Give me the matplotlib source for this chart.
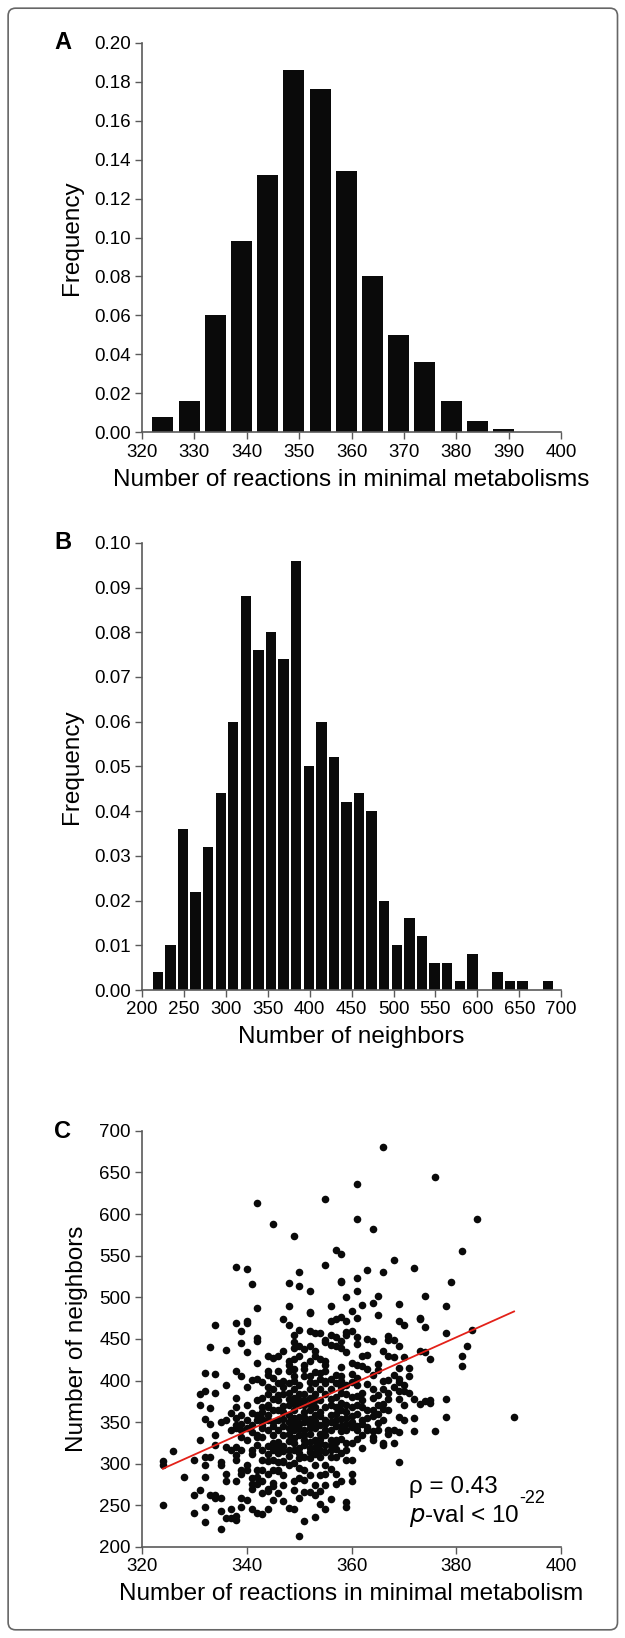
import matplotlib
matplotlib.use("Agg")
import matplotlib.pyplot as plt
from matplotlib.patches import FancyBboxPatch
import numpy as np

plt.rcParams.update({"font.family": ["Liberation Sans", "DejaVu Sans"], "font.size": 13})

# ---------- data ----------
# A: histogram of minimal-metabolism size
a_centers = [324, 329, 334, 339, 344, 349, 354, 359, 364, 369, 374, 379, 384, 389]
a_freq = [0.008, 0.016, 0.060, 0.098, 0.132, 0.186, 0.176, 0.134, 0.080, 0.050, 0.036, 0.016, 0.006, 0.002]

# B: histogram of number of neighbors (bins of 15)
b_centers = [219, 234, 249, 264, 279, 294, 309, 324, 339, 354, 369, 384, 399, 414, 429, 444,
             459, 474, 489, 504, 519, 534, 549, 564, 579, 594, 609, 624, 639, 654, 669, 684]
b_freq = [0.004, 0.010, 0.036, 0.022, 0.032, 0.044, 0.060, 0.088, 0.076, 0.080, 0.074, 0.096,
          0.050, 0.060, 0.052, 0.042, 0.044, 0.040, 0.020, 0.010, 0.016, 0.012, 0.006, 0.006,
          0.002, 0.008, 0.000, 0.004, 0.002, 0.002, 0.000, 0.002]

# C: (reactions, neighbors) pairs
c_points = [
    (366, 681), (376, 645), (361, 636), (342, 613), (355, 618), (345, 588), (361, 594), (364, 582),
    (384, 594), (349, 574), (381, 556), (357, 557), (358, 552), (355, 539), (338, 537), (340, 534),
    (368, 545), (372, 535), (363, 533), (366, 531), (350, 530), (361, 523), (358, 520), (358, 518),
    (379, 518), (341, 516), (348, 517), (350, 514), (352, 508), (361, 507), (374, 501), (359, 500),
    (365, 501), (369, 492), (364, 493), (362, 491), (356, 490), (378, 489), (342, 487), (348, 489),
    (360, 483), (352, 482), (352, 481), (365, 479), (361, 475), (334, 467), (338, 469), (340, 471),
    (340, 469), (347, 474), (348, 467), (356, 471), (358, 476), (359, 472), (357, 474), (369, 472),
    (370, 467), (373, 475), (373, 474), (374, 464), (378, 457), (383, 461), (339, 460), (342, 451),
    (342, 448), (349, 455), (350, 461), (352, 459), (353, 457), (354, 457), (359, 458), (360, 460),
    (359, 455), (363, 450), (361, 452), (367, 453), (368, 449), (369, 442), (367, 449), (356, 455),
    (357, 452), (358, 448), (355, 449), (355, 446), (356, 443), (357, 441), (358, 439), (349, 446),
    (350, 441), (349, 439), (347, 435), (351, 438), (352, 441), (353, 436), (333, 440), (336, 437),
    (339, 445), (373, 435), (374, 434), (375, 426), (381, 430), (381, 417), (382, 441), (371, 415),
    (367, 429), (368, 428), (363, 431), (365, 420), (361, 419), (360, 421), (362, 417), (363, 414),
    (365, 413), (358, 416), (355, 423), (354, 426), (355, 419), (353, 429), (352, 424), (351, 419),
    (349, 426), (350, 429), (348, 424), (346, 429), (344, 429), (345, 427), (342, 421), (340, 434),
    (344, 412), (346, 412), (348, 412), (349, 414), (332, 409), (334, 408), (338, 411), (339, 405),
    (341, 401), (342, 402), (340, 392), (344, 407), (349, 405), (351, 405), (352, 405), (354, 409),
    (355, 412), (358, 405), (360, 408), (361, 403), (364, 407), (366, 400), (367, 401), (368, 407),
    (369, 402), (369, 398), (370, 395), (371, 385), (369, 387), (369, 378), (372, 378), (374, 375),
    (375, 376), (375, 373), (373, 372), (378, 378), (378, 356), (376, 339), (372, 339), (372, 355),
    (370, 370), (369, 356), (368, 325), (369, 302), (391, 356), (367, 341), (367, 336), (365, 341),
    (366, 325), (366, 322), (364, 339), (364, 332), (364, 329), (362, 348), (361, 341), (362, 319),
    (359, 325), (357, 329), (357, 326), (358, 339), (356, 317), (355, 322), (354, 325), (352, 326),
    (352, 319), (353, 312), (354, 308), (351, 308), (349, 301), (350, 295), (351, 293), (353, 298),
    (355, 299), (357, 308), (358, 313), (359, 305), (360, 305), (360, 288), (360, 279), (358, 279),
    (357, 276), (359, 254), (359, 248), (356, 257), (355, 246), (354, 251), (353, 236), (352, 266),
    (351, 266), (350, 259), (351, 231), (350, 213), (349, 246), (348, 247), (349, 279), (350, 283),
    (351, 281), (352, 286), (347, 286), (346, 291), (345, 277), (345, 273), (344, 270), (344, 267),
    (345, 256), (344, 246), (343, 239), (342, 241), (341, 246), (341, 270), (341, 276), (342, 276),
    (342, 284), (341, 283), (340, 292), (340, 298), (342, 292), (343, 293), (343, 305), (344, 303),
    (339, 259), (340, 256), (339, 248), (338, 237), (338, 232), (337, 235), (337, 246), (336, 235),
    (335, 243), (335, 221), (334, 259), (335, 259), (333, 263), (332, 248), (332, 230), (330, 241),
    (330, 263), (331, 269), (328, 284), (330, 305), (331, 329), (332, 308), (332, 298), (332, 284),
    (333, 308), (334, 322), (334, 334), (333, 348), (332, 354), (331, 371), (331, 384), (333, 367),
    (335, 350), (335, 302), (336, 320), (336, 352), (337, 317), (337, 341), (338, 343), (339, 348),
    (338, 347), (338, 305), (338, 320), (338, 310), (339, 332), (340, 343), (341, 347), (339, 317),
    (340, 329), (341, 317), (341, 312), (342, 332), (342, 335), (343, 343), (343, 332), (344, 341),
    (344, 321), (345, 335), (345, 317), (346, 341), (346, 326), (346, 313), (347, 321), (347, 303),
    (348, 327), (348, 317), (349, 341), (349, 331), (350, 335), (350, 319), (351, 341), (351, 322),
    (347, 302), (346, 302), (345, 305), (336, 279), (338, 279), (339, 293), (339, 288), (336, 288),
    (335, 298),
    # dense core
    (345, 364), (344, 368), (343, 362), (342, 376), (343, 379), (344, 371), (346, 376), (346, 364),
    (347, 384), (347, 354), (348, 397), (348, 385), (348, 371), (348, 350), (349, 390), (349, 379),
    (349, 365), (349, 355), (350, 384), (350, 371), (350, 348), (351, 384), (351, 376), (351, 362),
    (352, 390), (352, 379), (352, 364), (352, 348), (353, 397), (353, 384), (353, 368), (353, 343),
    (354, 402), (354, 390), (354, 376), (354, 357), (354, 336), (355, 397), (355, 384), (355, 368),
    (355, 348), (356, 402), (356, 390), (356, 371), (356, 341), (357, 397), (357, 380), (357, 368),
    (357, 352), (358, 385), (358, 373), (358, 364), (359, 384), (359, 371), (360, 380), (360, 368),
    (360, 350), (362, 376), (364, 379), (365, 371), (366, 366), (366, 352), (363, 355), (361, 360),
    (367, 364), (340, 371), (338, 379), (338, 368), (337, 361), (341, 361), (336, 394), (334, 385),
    (332, 387), (343, 368), (345, 390), (344, 392), (346, 397), (347, 392), (345, 350), (343, 354),
    (342, 352), (347, 335), (348, 336), (351, 334), (352, 336), (353, 329), (354, 317), (355, 334),
    (356, 329), (356, 308), (352, 307), (350, 307), (349, 317), (348, 298), (346, 293), (345, 293),
    (344, 288), (343, 279), (347, 274), (349, 269), (353, 274), (354, 286), (355, 288), (356, 294),
    (357, 288), (355, 274), (353, 262), (354, 267), (347, 255), (346, 265), (343, 265), (359, 340),
    (359, 355), (361, 330), (362, 335), (363, 344), (365, 349), (363, 364), (361, 371), (362, 385),
    (364, 390), (365, 382), (367, 385), (368, 392), (370, 387), (359, 394), (358, 399), (361, 394),
    (369, 338), (368, 341), (370, 352), (324, 298), (324, 303), (324, 250), (326, 315), (334, 262),
    (344, 358), (345, 345), (346, 352), (347, 362), (347, 345), (348, 358), (348, 343), (349, 352),
    (349, 347), (350, 356), (350, 342), (351, 350), (351, 356), (352, 354), (352, 343), (353, 351),
    (353, 358), (354, 346), (354, 362), (355, 353), (355, 341), (356, 359), (356, 350), (357, 345),
    (357, 360), (358, 354), (358, 345), (359, 362), (359, 348), (360, 357), (360, 344), (353, 376),
    (352, 372), (351, 370), (350, 377), (349, 373), (348, 378), (347, 369), (346, 382), (345, 378),
    (344, 384), (344, 352), (343, 347), (342, 358), (341, 338), (340, 352), (339, 358), (338, 355),
    (339, 340), (342, 322), (343, 316), (344, 312), (345, 325), (346, 320), (347, 315), (348, 309),
    (349, 325), (350, 313), (351, 328), (352, 314), (353, 320), (354, 330), (355, 314), (356, 322),
    (357, 318), (358, 330), (359, 316), (360, 325), (361, 345), (362, 352), (363, 340), (364, 357),
    (365, 360), (366, 372), (367, 378), (366, 390), (363, 396), (360, 398), (357, 407), (355, 400),
    (352, 398), (350, 395), (349, 399), (347, 400), (345, 403), (343, 398), (362, 368), (364, 364),
    (361, 381), (356, 378), (358, 392), (353, 410), (351, 414), (348, 419), (362, 430), (366, 435),
    (370, 428), (369, 415), (371, 405), (364, 447), (361, 444), (359, 434),
]
c_x = [p[0] for p in c_points]
c_y = [p[1] for p in c_points]
fit_x = [324, 391]
fit_y = [294, 483]

BLACK = "#0a0a0a"
SPINE = "#5a5a5a"


def style(ax):
    for s in ("top", "right"):
        ax.spines[s].set_visible(False)
    for s in ("left", "bottom"):
        ax.spines[s].set_color(SPINE)
        ax.spines[s].set_linewidth(1.2)
    ax.tick_params(direction="out", length=5, width=1, color=SPINE, labelsize=13.5, pad=3)


fig = plt.figure(figsize=(6.25, 16.38), dpi=100)
fig.patches.append(FancyBboxPatch((0.013, 0.005), 0.975, 0.99, boxstyle="round,pad=0,rounding_size=0.012",
                                  transform=fig.transFigure, fill=False, ec="#666666", lw=1.2,
                                  mutation_aspect=1 / 2.62))
LBL = 17.5

# ---------- A ----------
axA = fig.add_axes([0.227, 0.736, 0.671, 0.238])
axA.bar(a_centers, a_freq, width=4.0, color=BLACK)
axA.set_xlim(320, 400); axA.set_ylim(0, 0.20)
axA.set_xticks(np.arange(320, 401, 10)); axA.set_yticks(np.arange(0, 0.201, 0.02))
axA.yaxis.set_major_formatter(matplotlib.ticker.FormatStrFormatter("%.2f"))
axA.set_xlabel("Number of reactions in minimal metabolisms", fontsize=LBL, labelpad=6)
axA.set_ylabel("Frequency", fontsize=LBL, labelpad=8)
style(axA)
fig.text(0.087, 0.974, "A", fontsize=17, fontweight="bold", va="center")

# ---------- B ----------
axB = fig.add_axes([0.227, 0.3956, 0.671, 0.273])
axB.bar(b_centers, b_freq, width=12.4, color=BLACK)
axB.set_xlim(200, 700); axB.set_ylim(0, 0.10)
axB.set_xticks(np.arange(200, 701, 50)); axB.set_yticks(np.arange(0, 0.101, 0.01))
axB.yaxis.set_major_formatter(matplotlib.ticker.FormatStrFormatter("%.2f"))
axB.set_xlabel("Number of neighbors", fontsize=LBL, labelpad=6)
axB.set_ylabel("Frequency", fontsize=LBL, labelpad=8)
style(axB)
fig.text(0.087, 0.6685, "B", fontsize=17, fontweight="bold", va="center")

# ---------- C ----------
axC = fig.add_axes([0.227, 0.0556, 0.671, 0.254])
axC.scatter(c_x, c_y, s=30, color=BLACK, linewidths=0, zorder=2)
axC.plot(fit_x, fit_y, color="#e32119", lw=1.3, zorder=3)
axC.set_xlim(320, 400); axC.set_ylim(200, 700)
axC.set_xticks(np.arange(320, 401, 20)); axC.set_yticks(np.arange(200, 701, 50))
axC.set_xlabel("Number of reactions in minimal metabolism", fontsize=LBL, labelpad=6)
axC.set_ylabel("Number of neighbors", fontsize=LBL, labelpad=8)
style(axC)
axC.text(371, 272, "ρ = 0.43", fontsize=17.5, va="center")
pv = axC.text(371, 237, "$\\it{p}$-val < 10", fontsize=17.5, va="center")
axC.annotate("-22", xy=(1.0, 0.85), xycoords=pv, fontsize=13, ha="left", va="bottom")
fig.text(0.087, 0.3095, "C", fontsize=17, fontweight="bold", va="center")

fig.savefig("out.png", dpi=100)
